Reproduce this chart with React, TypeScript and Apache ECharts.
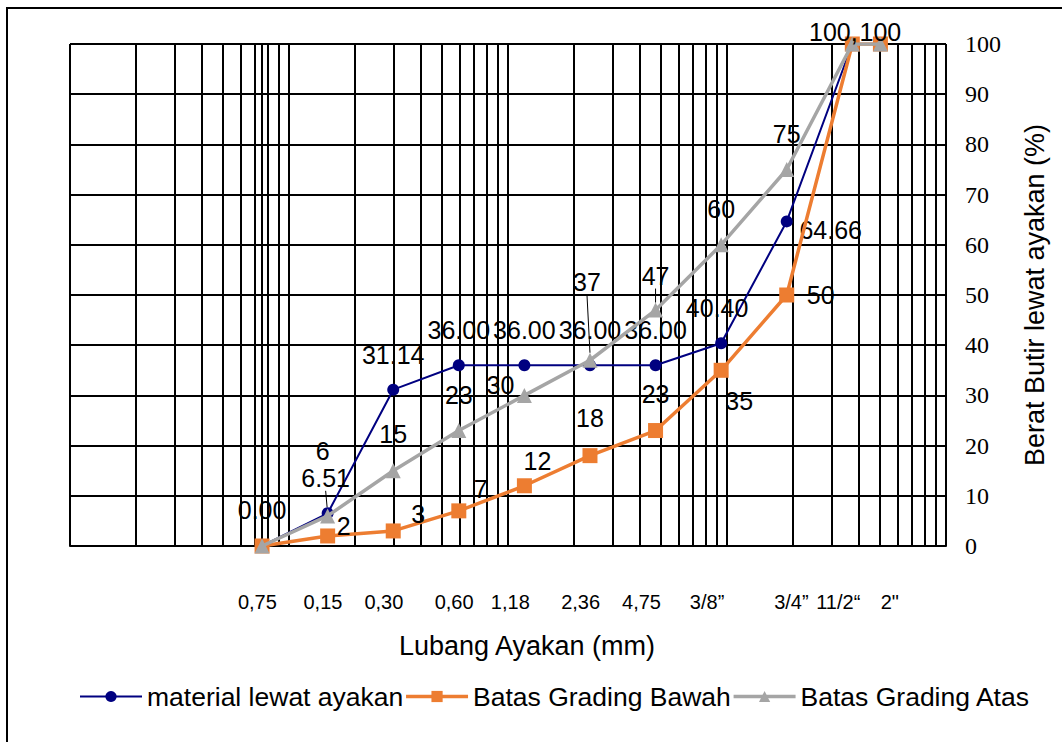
import React, { useEffect, useRef } from 'react';
import * as echarts from 'echarts';

// sieve sizes (x tick labels) and their positions on the chart's x scale
const sieveLabels = ['0,75', '0,15', '0,30', '0,60', '1,18', '2,36', '4,75', '3/8”', '3/4”', '11/2“', '2"'];
const sieveLabelPos = [-1, 13, 26, 41, 53, 68, 81, 95, 113, 123, 134];
const sievePos = [0, 14, 28, 42, 56, 70, 84, 98, 112, 126, 132];

// series values (% passing)
const materialLewat = [0.0, 6.51, 31.14, 36.0, 36.0, 36.0, 36.0, 40.4, 64.66, 100];
const batasBawah = [0, 2, 3, 7, 12, 18, 23, 35, 50, 100, 100];
const batasAtas = [0, 6, 15, 23, 30, 37, 47, 60, 75, 100, 100];

const yTicks = [0, 10, 20, 30, 40, 50, 60, 70, 80, 90, 100];

// label placement (styling)
const navyOff: (number[] | null)[] = [[0, -36], [-2, -35], [0, -35], [0, -35], [0, -35], [0, -35], [0, -35], [-4, -35], [44, 9], null];
const orangeOff: (number[] | null)[] = [null, [16, -10], [25, -17], [22, -22], [13, -25], [0, -38], [0, -37], [18, 31], [34, 0], null, null];
const grayOff: (number[] | null)[] = [null, [-5, -65], [0, -37], [0, -36], [-24, -10], [-3, -78], [0, -34], [0, -36], [0, -36], [-19, -12], [0, -12]];
const leaders: Record<string, number[]> = { '0': [1], '1': [8], '2': [5, 6] };

const SANS = 'Liberation Sans';
const SERIF = 'Liberation Serif';

function buildData(values: number[], offs: (number[] | null)[], seriesIdx: number, fmt: (v: number, i: number) => string) {
  return values.map((v, i) => {
    const off = offs[i];
    const item: any = { value: [sievePos[i], v] };
    if (!off) {
      item.label = { show: false };
    } else {
      item.label = { show: true, formatter: fmt(v, i) };
      if ((leaders[String(seriesIdx)] || []).includes(i)) {
        item.labelLine = { show: true, lineStyle: { color: '#000', width: 1 } };
      }
    }
    return item;
  });
}

export default function App() {
  const ref = useRef<HTMLDivElement>(null);
  useEffect(() => {
    document.body.style.margin = '0';
    if (!ref.current) return;
    const chart = echarts.init(ref.current, undefined, { renderer: 'svg' });
    const offsAll = [navyOff, orangeOff, grayOff];
    const labelBase = {
      show: true,
      position: 'inside',
      color: '#000',
      fontFamily: SANS,
      fontSize: 25,
    };
    const layout = (params: any) => {
      const off = offsAll[params.seriesIndex]?.[params.dataIndex];
      if (!off) return {};
      return { dx: off[0], dy: off[1] };
    };
    chart.setOption({
      animation: false,
      backgroundColor: '#fff',
      graphic: [
        {
          type: 'rect',
          shape: { x: 7, y: 8, width: 1200, height: 1000 },
          style: { fill: 'none', stroke: '#000', lineWidth: 2 },
          z: -10,
        },
      ],
      grid: { left: 70, right: 116, top: 44, height: 502 },
      legend: {
        left: 74,
        top: 678,
        itemWidth: 62,
        itemHeight: 14,
        itemGap: 1,
        textStyle: { fontFamily: SANS, fontSize: 26.5, color: '#000' },
        data: [
          { name: 'material lewat ayakan', itemStyle: { color: '#000080' }, lineStyle: { color: '#000080', width: 2 } },
          { name: 'Batas Grading Bawah', itemStyle: { color: '#ED7D31' }, lineStyle: { color: '#ED7D31', width: 3.5 } },
          { name: 'Batas Grading Atas', itemStyle: { color: '#A5A5A5' }, lineStyle: { color: '#A5A5A5', width: 3.5 } },
        ],
      },
      xAxis: [
        {
          type: 'value',
          position: 'bottom',
          min: -41,
          max: 146,
          interval: 1,
          axisLine: { show: true, lineStyle: { color: '#000', width: 2 } },
          axisTick: { show: false },
          splitLine: { show: false },
          axisLabel: {
            margin: 46,
            fontFamily: SANS,
            fontSize: 20,
            color: '#000',
            formatter: (v: number) => {
              const k = sieveLabelPos.indexOf(Math.round(v));
              return k >= 0 ? sieveLabels[k] : '';
            },
          },
          name: 'Lubang Ayakan (mm)',
          nameLocation: 'middle',
          nameGap: 86,
          nameTextStyle: { fontFamily: SANS, fontSize: 27, color: '#000', padding: [0, 0, 0, 38] },
        },
        {
          type: 'log',
          logBase: 10,
          position: 'top',
          min: 1,
          max: 10000,
          axisLine: { show: false },
          axisTick: { show: false },
          axisLabel: { show: false },
          splitLine: { show: true, lineStyle: { color: '#000', width: 2 } },
          minorTick: { show: false, splitNumber: 9 },
          minorSplitLine: { show: true, lineStyle: { color: '#000', width: 2 } },
        },
      ],
      yAxis: {
        type: 'value',
        position: 'right',
        min: 0,
        max: 100,
        interval: 10,
        axisLine: { show: true, lineStyle: { color: '#000', width: 2 } },
        axisTick: { show: true, length: 16, lineStyle: { color: '#000', width: 2 } },
        splitLine: { show: true, lineStyle: { color: '#000', width: 2 } },
        axisLabel: {
          margin: 19,
          fontFamily: SERIF,
          fontSize: 24,
          color: '#000',
          formatter: (v: number) => (yTicks.includes(v) ? String(v) : ''),
        },
        name: 'Berat Butir lewat ayakan (%)',
        nameLocation: 'middle',
        nameRotate: 90,
        nameGap: 75,
        nameTextStyle: { fontFamily: SANS, fontSize: 27, color: '#000' },
      },
      series: [
        {
          name: 'material lewat ayakan',
          type: 'line',
          xAxisIndex: 0,
          yAxisIndex: 0,
          symbol: 'circle',
          symbolSize: 12,
          itemStyle: { color: '#000080' },
          lineStyle: { color: '#000080', width: 2 },
          label: labelBase,
          labelLine: { show: false },
          labelLayout: layout,
          data: buildData(materialLewat, navyOff, 0, (v) => v.toFixed(2)),
          z: 3,
        },
        {
          name: 'Batas Grading Bawah',
          type: 'line',
          xAxisIndex: 0,
          yAxisIndex: 0,
          symbol: 'rect',
          symbolSize: 15,
          itemStyle: { color: '#ED7D31' },
          lineStyle: { color: '#ED7D31', width: 3.5 },
          label: labelBase,
          labelLine: { show: false },
          labelLayout: layout,
          data: buildData(batasBawah, orangeOff, 1, (v) => String(v)),
          z: 4,
        },
        {
          name: 'Batas Grading Atas',
          type: 'line',
          xAxisIndex: 0,
          yAxisIndex: 0,
          symbol: 'triangle',
          symbolSize: 15,
          itemStyle: { color: '#A5A5A5' },
          lineStyle: { color: '#A5A5A5', width: 3.5 },
          label: labelBase,
          labelLine: { show: false },
          labelLayout: layout,
          data: buildData(batasAtas, grayOff, 2, (v, i) => (i === 9 ? String(v) + ',' : String(v))),
          z: 5,
        },
      ],
    });
    return () => chart.dispose();
  }, []);
  return <div ref={ref} style={{ width: 1062, height: 742 }} />;
}
